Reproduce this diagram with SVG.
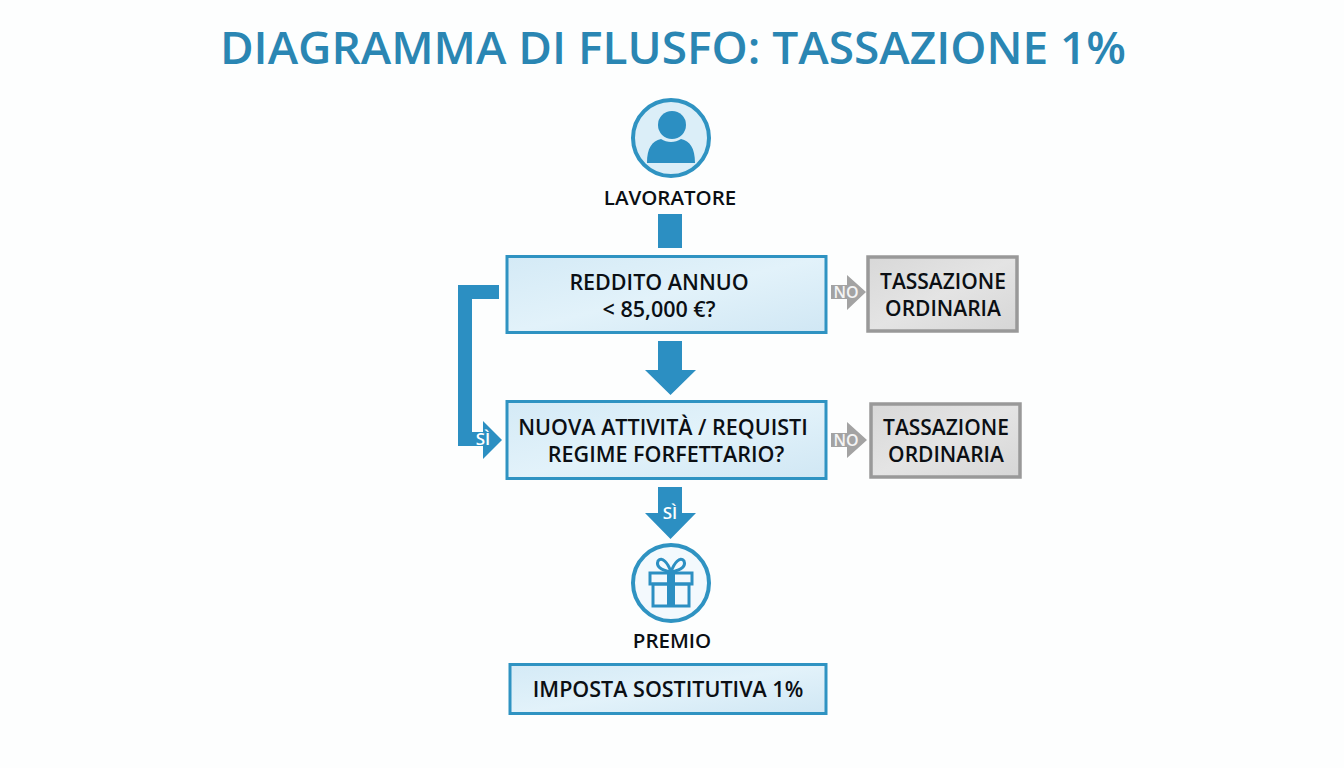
<svg xmlns="http://www.w3.org/2000/svg" width="1344" height="768" viewBox="0 0 1344 768">
<style>
text{font-family:"Open Sans","Noto Sans","Liberation Sans",sans-serif;font-weight:600;fill:#0b0f14;text-anchor:middle}
.box{fill:url(#blue);stroke:#2f93c2;stroke-width:3}
.gray{fill:url(#grey);stroke:#999;stroke-width:3.500}
.t{font-size:21.500px}
.g{font-size:21px}
.flow{fill:#2c8fc2}
.no{fill:#a3a3a3}
.lab{font-size:17px;fill:#fff}
.nolab{font-size:16px;fill:#f4f4f4}
.ring{fill:#dbeef8;stroke:#2f93c2;stroke-width:4}
</style>
<defs>
<linearGradient id="blue" x1="0" y1="0" x2="1" y2="1"><stop offset="0" stop-color="#d4eaf6"/><stop offset="0.5" stop-color="#e2f2fa"/><stop offset="1" stop-color="#d0e7f4"/></linearGradient>
<linearGradient id="grey" x1="0" y1="0" x2="1" y2="1"><stop offset="0" stop-color="#d8d8d8"/><stop offset="0.5" stop-color="#e4e4e4"/><stop offset="1" stop-color="#d6d6d6"/></linearGradient>
</defs>
<rect width="1344" height="768" fill="#fdfefe"/>
<text id="title" x="673" y="64" style="font-size:46px;fill:#2a86b3">DIAGRAMMA DI FLUSFO: TASSAZIONE 1%</text>
<g id="connectors">
<rect class="flow" x="658" y="214" width="24" height="34"/>
<path class="flow" d="M658 341H682V370H696L670.500 395L645 370H658Z"/>
<path class="flow" d="M499 285V299H472V432H483V421L502 440L483 459V446H458V285Z"/>
<path class="flow" d="M658 487H682V513H696L670.500 539L645 513H658Z"/>
<path class="no" d="M831 285H847V275L866 292L847 310V299H831Z"/>
<path class="no" d="M831 433H847V422L867 440L847 458V447H831Z"/>
<text class="lab" x="483" y="445">SÌ</text>
<text class="lab" x="670" y="519">SÌ</text>
<text class="nolab" x="846" y="298">NO</text>
<text class="nolab" x="846" y="446">NO</text>
</g>
<g id="lavoratore">
<circle class="ring" cx="671" cy="138" r="38"/>
<circle class="flow" cx="672" cy="125" r="14"/>
<path class="flow" d="M647 163C647 148 652 141 661 139C667 143 675 143 681 139C690 141 695 148 695 163Z"/>
<text x="670" y="205" style="font-size:20.500px">LAVORATORE</text>
</g>
<g id="reddito">
<rect class="box" x="507" y="256.500" width="319" height="76"/>
<text class="t" x="659" y="290">REDDITO ANNUO</text>
<text class="t" x="659" y="317">&lt; 85,000 €?</text>
</g>
<g id="requisiti">
<rect class="box" x="507" y="401.500" width="319" height="77"/>
<text class="t" x="663" y="435">NUOVA ATTIVITÀ / REQUISTI</text>
<text class="t" x="666" y="462">REGIME FORFETTARIO?</text>
</g>
<g id="ordinaria1">
<rect class="gray" x="868" y="257" width="149" height="74"/>
<text class="g" x="943" y="288.500">TASSAZIONE</text>
<text class="g" x="943" y="315.500">ORDINARIA</text>
</g>
<g id="ordinaria2">
<rect class="gray" x="871" y="404" width="149" height="73"/>
<text class="g" x="946" y="434.500">TASSAZIONE</text>
<text class="g" x="946" y="461.500">ORDINARIA</text>
</g>
<g id="premio">
<circle cx="671" cy="583" r="38" fill="#f3f9fd" stroke="#2f93c2" stroke-width="4"/>
<g fill="none" stroke="#2c8fc2" stroke-width="3">
<rect x="650" y="573" width="42" height="11"/>
<rect x="653" y="584" width="36" height="22"/>
<path d="M671 572C660 570 656 566 658 561C662 556 668 563 671 572C674 563 680 556 684 561C686 566 682 570 671 572Z"/>
</g>
<rect class="flow" x="667" y="572" width="8" height="34"/>
<text x="672" y="648" style="font-size:20.500px">PREMIO</text>
</g>
<g id="imposta">
<rect class="box" x="510" y="664.500" width="316" height="49"/>
<text class="t" x="668" y="697">IMPOSTA SOSTITUTIVA 1%</text>
</g>
</svg>
